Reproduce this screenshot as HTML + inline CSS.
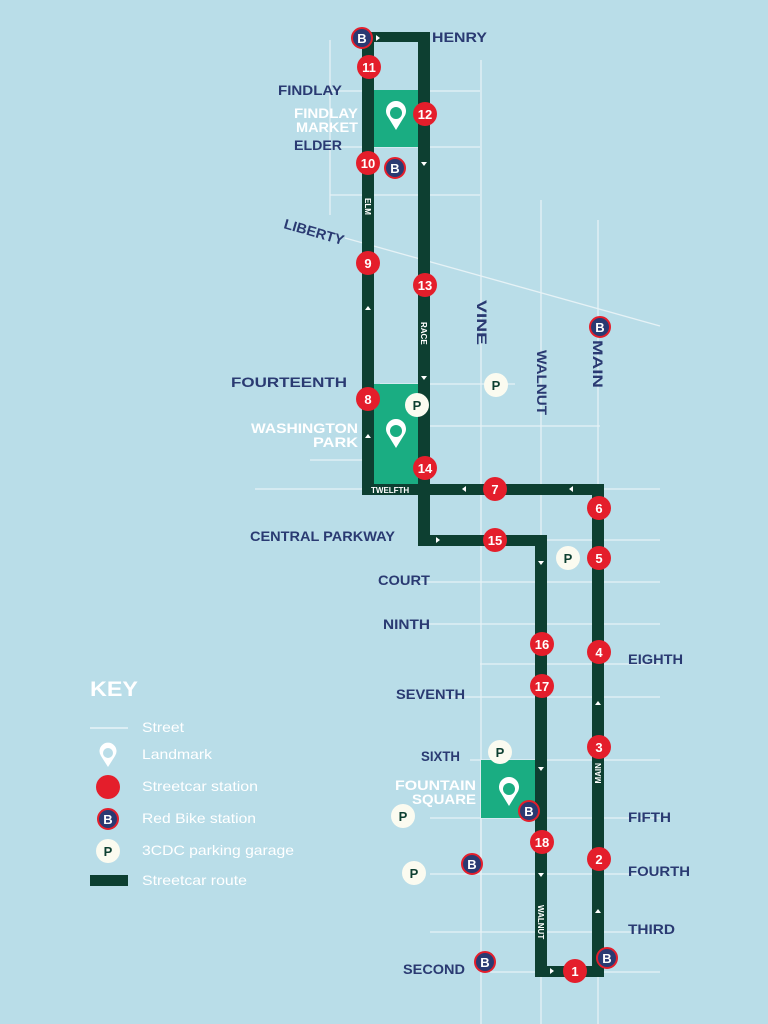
<!DOCTYPE html>
<html><head><meta charset="utf-8"><style>
html,body{margin:0;padding:0;background:#b9dde8;}
svg{display:block;font-family:"Liberation Sans",sans-serif;font-weight:bold;}
.st{fill:#2a3a72;font-size:14px;}
.wl{fill:#fff;font-size:14px;}
.n{fill:#fff;font-size:13px;text-anchor:middle;}
.k{fill:#fff;font-size:14px;font-weight:normal;}
</style></head><body>
<svg width="768" height="1024" viewBox="0 0 768 1024">
<rect width="768" height="1024" fill="#b9dde8"/>
<g stroke="#e6f2f6" stroke-width="1.3" fill="none">
<line x1="330" y1="40" x2="330" y2="215"/>
<line x1="481" y1="60" x2="481" y2="1024"/>
<line x1="541" y1="200" x2="541" y2="1024"/>
<line x1="598" y1="220" x2="598" y2="1024"/>
<line x1="330" y1="91" x2="480" y2="91"/>
<line x1="330" y1="147" x2="480" y2="147"/>
<line x1="330" y1="195" x2="480" y2="195"/>
<line x1="345" y1="238" x2="660" y2="326"/>
<line x1="380" y1="384" x2="515" y2="384"/>
<line x1="420" y1="426" x2="600" y2="426"/>
<line x1="310" y1="460" x2="370" y2="460"/>
<line x1="255" y1="489" x2="660" y2="489"/>
<line x1="420" y1="540" x2="660" y2="540"/>
<line x1="420" y1="582" x2="660" y2="582"/>
<line x1="420" y1="624" x2="660" y2="624"/>
<line x1="480" y1="664" x2="660" y2="664"/>
<line x1="440" y1="697" x2="660" y2="697"/>
<line x1="470" y1="760" x2="660" y2="760"/>
<line x1="430" y1="818" x2="660" y2="818"/>
<line x1="430" y1="874" x2="660" y2="874"/>
<line x1="430" y1="932" x2="660" y2="932"/>
<line x1="490" y1="972" x2="660" y2="972"/>
<line x1="481" y1="760" x2="481" y2="932"/>
</g>
<g fill="#1aad82">
<rect x="374" y="90" width="46" height="57"/>
<rect x="374" y="384" width="46" height="100"/>
<rect x="481" y="760" width="56" height="58"/>
</g>
<g fill="#0d3f31">
<rect x="362" y="32" width="12" height="462"/>
<rect x="362" y="32" width="68" height="10"/>
<rect x="418" y="32" width="12" height="514"/>
<rect x="362" y="484" width="242" height="11"/>
<rect x="418" y="535" width="129" height="11"/>
<rect x="535" y="535" width="12" height="442"/>
<rect x="535" y="966" width="69" height="11"/>
<rect x="592" y="484" width="12" height="493"/>
</g>
<g fill="#fff">
<path d="M421 162l6 0l-3 4z"/><path d="M421 376l6 0l-3 4z"/><path d="M365 310l6 0l-3 -4z"/><path d="M365 438l6 0l-3 -4z"/>
<path d="M466 489l0 -3l-4 3l4 3z"/><path d="M573 489l0 -3l-4 3l4 3z"/>
<path d="M436 537l0 6l4 -3z"/><path d="M538 561l6 0l-3 4z"/><path d="M538 767l6 0l-3 4z"/><path d="M538 873l6 0l-3 4z"/>
<path d="M550 968l0 6l4 -3z"/><path d="M595 705l6 0l-3 -4z"/><path d="M595 913l6 0l-3 -4z"/><path d="M376 41l0 -6l4 3z"/>
</g>
<g fill="#fff">
<g transform="translate(396,118)"><path d="M0 12l-8-13a10 10 0 1 1 16 0z"/><circle cy="-5" r="6" fill="#1aad82"/></g>
<g transform="translate(396,436)"><path d="M0 12l-8-13a10 10 0 1 1 16 0z"/><circle cy="-5" r="6" fill="#1aad82"/></g>
<g transform="translate(509,794)"><path d="M0 12l-8-13a10 10 0 1 1 16 0z"/><circle cy="-5" r="6" fill="#1aad82"/></g>
</g>
<g>
<g fill="#e41e2b">
<circle cx="369" cy="67" r="12"/><circle cx="425" cy="114" r="12"/><circle cx="368" cy="163" r="12"/><circle cx="368" cy="263" r="12"/><circle cx="425" cy="285" r="12"/><circle cx="368" cy="399" r="12"/><circle cx="425" cy="468" r="12"/><circle cx="495" cy="489" r="12"/><circle cx="599" cy="508" r="12"/><circle cx="495" cy="540" r="12"/><circle cx="599" cy="558" r="12"/><circle cx="542" cy="644" r="12"/><circle cx="599" cy="652" r="12"/><circle cx="542" cy="686" r="12"/><circle cx="599" cy="747" r="12"/><circle cx="542" cy="842" r="12"/><circle cx="599" cy="859" r="12"/><circle cx="575" cy="971" r="12"/>
</g>
<g class="n">
<text x="369" y="72">11</text><text x="425" y="119">12</text><text x="368" y="168">10</text><text x="368" y="268">9</text><text x="425" y="290">13</text><text x="368" y="404">8</text><text x="425" y="473">14</text><text x="495" y="494">7</text><text x="599" y="513">6</text><text x="495" y="545">15</text><text x="599" y="563">5</text><text x="542" y="649">16</text><text x="599" y="657">4</text><text x="542" y="691">17</text><text x="599" y="752">3</text><text x="542" y="847">18</text><text x="599" y="864">2</text><text x="575" y="976">1</text>
</g>
<g fill="#2a3a72" stroke="#e41e2b" stroke-width="2">
<circle cx="362" cy="38" r="10"/><circle cx="395" cy="168" r="10"/><circle cx="600" cy="327" r="10"/><circle cx="529" cy="811" r="10"/><circle cx="472" cy="864" r="10"/><circle cx="485" cy="962" r="10"/><circle cx="607" cy="958" r="10"/><circle cx="108" cy="819" r="10"/>
</g>
<g class="n"><text x="362" y="43">B</text><text x="395" y="173">B</text><text x="600" y="332">B</text><text x="529" y="816">B</text><text x="472" y="869">B</text><text x="485" y="967">B</text><text x="607" y="963">B</text><text x="108" y="824">B</text></g>
<g fill="#fbfbf0"><circle cx="417" cy="405" r="12"/><circle cx="496" cy="385" r="12"/><circle cx="568" cy="558" r="12"/><circle cx="500" cy="752" r="12"/><circle cx="403" cy="816" r="12"/><circle cx="414" cy="873" r="12"/><circle cx="108" cy="851" r="12"/></g>
<g class="n" style="fill:#0d3f31"><text x="417" y="410">P</text><text x="496" y="390">P</text><text x="568" y="563">P</text><text x="500" y="757">P</text><text x="403" y="821">P</text><text x="414" y="878">P</text><text x="108" y="856">P</text></g>
</g>
<g class="st" lengthAdjust="spacingAndGlyphs">
<text x="432" y="42" textLength="55" lengthAdjust="spacingAndGlyphs">HENRY</text>
<text x="278" y="95" textLength="64" lengthAdjust="spacingAndGlyphs">FINDLAY</text>
<text x="294" y="150" textLength="48" lengthAdjust="spacingAndGlyphs">ELDER</text>
<text x="283" y="228" transform="rotate(16 283 228)" textLength="62" lengthAdjust="spacingAndGlyphs">LIBERTY</text>
<text x="231" y="387" textLength="116" lengthAdjust="spacingAndGlyphs">FOURTEENTH</text>
<text x="250" y="541" textLength="145" lengthAdjust="spacingAndGlyphs">CENTRAL PARKWAY</text>
<text x="378" y="585" textLength="52" lengthAdjust="spacingAndGlyphs">COURT</text>
<text x="383" y="629" textLength="47" lengthAdjust="spacingAndGlyphs">NINTH</text>
<text x="628" y="664" textLength="55" lengthAdjust="spacingAndGlyphs">EIGHTH</text>
<text x="396" y="699" textLength="69" lengthAdjust="spacingAndGlyphs">SEVENTH</text>
<text x="421" y="761" textLength="39" lengthAdjust="spacingAndGlyphs">SIXTH</text>
<text x="628" y="822" textLength="43" lengthAdjust="spacingAndGlyphs">FIFTH</text>
<text x="628" y="876" textLength="62" lengthAdjust="spacingAndGlyphs">FOURTH</text>
<text x="628" y="934" textLength="47" lengthAdjust="spacingAndGlyphs">THIRD</text>
<text x="403" y="974" textLength="62" lengthAdjust="spacingAndGlyphs">SECOND</text>
<text transform="translate(477,300) rotate(90)" textLength="45" lengthAdjust="spacingAndGlyphs">VINE</text>
<text transform="translate(537,350) rotate(90)" textLength="65" lengthAdjust="spacingAndGlyphs">WALNUT</text>
<text transform="translate(593,340) rotate(90)" textLength="48" lengthAdjust="spacingAndGlyphs">MAIN</text>
</g>
<g class="wl">
<text x="294" y="118" textLength="64" lengthAdjust="spacingAndGlyphs">FINDLAY</text>
<text x="296" y="132" textLength="62" lengthAdjust="spacingAndGlyphs">MARKET</text>
<text x="251" y="433" textLength="107" lengthAdjust="spacingAndGlyphs">WASHINGTON</text>
<text x="313" y="447" textLength="45" lengthAdjust="spacingAndGlyphs">PARK</text>
<text x="395" y="790" textLength="81" lengthAdjust="spacingAndGlyphs">FOUNTAIN</text>
<text x="412" y="804" textLength="64" lengthAdjust="spacingAndGlyphs">SQUARE</text>
</g>
<g fill="#fff" font-size="8"><text x="371" y="493">TWELFTH</text><text transform="translate(365,198) rotate(90)">ELM</text><text transform="translate(421,322) rotate(90)">RACE</text><text transform="translate(538,905) rotate(90)">WALNUT</text><text transform="translate(601,763) rotate(-90)" text-anchor="end">MAIN</text></g>
<text x="90" y="696" fill="#fff" font-size="21" textLength="48" lengthAdjust="spacingAndGlyphs">KEY</text>
<line x1="90" y1="728" x2="128" y2="728" stroke="#fff" stroke-width="1"/>
<g transform="translate(108,758)" fill="#fff"><path d="M0 9l-7-11a8.5 8.5 0 1 1 14 0z"/><circle cy="-5" r="5" fill="#b9dde8"/></g>
<circle cx="108" cy="787" r="12" fill="#e41e2b"/>
<rect x="90" y="875" width="38" height="11" fill="#0d3f31"/>
<g class="k">
<text x="142" y="732" textLength="42" lengthAdjust="spacingAndGlyphs">Street</text>
<text x="142" y="759" textLength="70" lengthAdjust="spacingAndGlyphs">Landmark</text>
<text x="142" y="791" textLength="116" lengthAdjust="spacingAndGlyphs">Streetcar station</text>
<text x="142" y="823" textLength="114" lengthAdjust="spacingAndGlyphs">Red Bike station</text>
<text x="142" y="855" textLength="152" lengthAdjust="spacingAndGlyphs">3CDC parking garage</text>
<text x="142" y="885" textLength="105" lengthAdjust="spacingAndGlyphs">Streetcar route</text>
</g>
</svg>
</body></html>
